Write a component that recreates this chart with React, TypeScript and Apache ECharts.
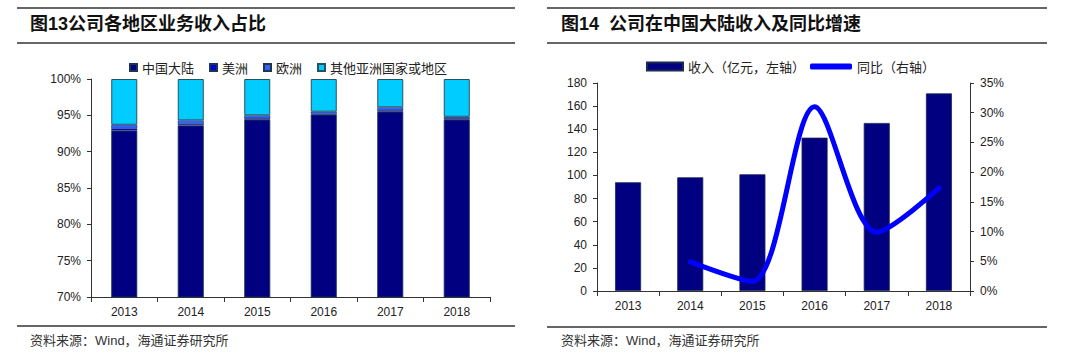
import React, { useEffect, useRef } from "react";
import * as echarts from "echarts";

const years = ["2013", "2014", "2015", "2016", "2017", "2018"];
const chinaShare = [92.9, 93.6, 94.4, 95.1, 95.5, 94.4];
const americasShare = [0.3, 0.2, 0.2, 0.1, 0.2, 0.2];
const europeShare = [0.5, 0.5, 0.4, 0.3, 0.4, 0.2];
const otherAsiaShare = [6.3, 5.7, 5.0, 4.5, 3.9, 5.2];

const revenue = [94.1, 98.4, 101.0, 132.7, 145.4, 171.0];
const yoy: (number | string)[] = ["-", 4.9, 1.6, 31.0, 9.9, 17.3];

const CJK = "'Noto Sans CJK SC', sans-serif";
const LAT = "'Liberation Sans', Arial, 'Noto Sans CJK SC', sans-serif";

export default function App() {
  const ref = useRef<HTMLDivElement>(null);
  useEffect(() => {
    document.body.style.margin = "0";
    const chart = echarts.init(ref.current!, null, { renderer: "svg" });
    const axisLine = { show: true, lineStyle: { color: "#333", width: 1 } };
    const axisLabel = { color: "#222", fontSize: 12, fontFamily: LAT };
    const grayLine = { stroke: "#666", lineWidth: 2 };
    const option: any = {
      animation: false,
      backgroundColor: "#fff",
      grid: [
        { left: 91, right: 590, top: 79, bottom: 63 },
        { left: 597, right: 110, top: 83, bottom: 69 },
      ],
      legend: [
        {
          left: 124,
          top: 56,
          itemWidth: 7,
          itemHeight: 7,
          itemGap: 15,
          icon: "rect",
          textStyle: { fontSize: 13, fontFamily: CJK, color: "#222" },
          data: ["中国大陆", "美洲", "欧洲", "其他亚洲国家或地区"],
        },
        {
          left: 641,
          top: 55,
          itemWidth: 36,
          itemHeight: 8,
          icon: "rect",
          textStyle: { fontSize: 13, fontFamily: CJK, color: "#222" },
          data: ["收入（亿元，左轴）"],
        },
        {
          left: 805,
          top: 55,
          itemWidth: 42,
          itemHeight: 6,
          icon: "roundRect",
          textStyle: { fontSize: 13, fontFamily: CJK, color: "#222" },
          data: ["同比（右轴）"],
        },
      ],
      xAxis: [
        {
          type: "category",
          gridIndex: 0,
          data: years,
          axisLine,
          axisTick: { show: true, length: 5, lineStyle: { color: "#333" } },
          axisLabel: { ...axisLabel, margin: 9 },
        },
        {
          type: "category",
          gridIndex: 1,
          data: years,
          axisLine,
          axisTick: { show: true, length: 5, lineStyle: { color: "#333" } },
          axisLabel: { ...axisLabel, margin: 9 },
        },
      ],
      yAxis: [
        {
          type: "value",
          gridIndex: 0,
          min: 70,
          max: 100,
          interval: 5,
          axisLine,
          axisTick: { show: true, length: 4, lineStyle: { color: "#333" } },
          splitLine: { show: false },
          axisLabel: { ...axisLabel, margin: 10, formatter: "{value}%" },
        },
        {
          type: "value",
          gridIndex: 1,
          min: 0,
          max: 180,
          interval: 20,
          axisLine,
          axisTick: { show: true, length: 4, lineStyle: { color: "#333" } },
          splitLine: { show: false },
          axisLabel: { ...axisLabel, margin: 10 },
        },
        {
          type: "value",
          gridIndex: 1,
          position: "right",
          min: 0,
          max: 35,
          interval: 5,
          axisLine,
          axisTick: { show: true, length: 4, lineStyle: { color: "#333" } },
          splitLine: { show: false },
          axisLabel: { ...axisLabel, margin: 10, formatter: "{value}%" },
        },
      ],
      series: [
        {
          name: "中国大陆",
          type: "bar",
          stack: "share",
          xAxisIndex: 0,
          yAxisIndex: 0,
          barWidth: 26,
          data: chinaShare,
          itemStyle: { color: "#000080", borderColor: "#1d3550", borderWidth: 0.8 },
        },
        {
          name: "美洲",
          type: "bar",
          stack: "share",
          xAxisIndex: 0,
          yAxisIndex: 0,
          barWidth: 26,
          data: americasShare,
          itemStyle: { color: "#0000e0", borderColor: "#1d3550", borderWidth: 0.5 },
        },
        {
          name: "欧洲",
          type: "bar",
          stack: "share",
          xAxisIndex: 0,
          yAxisIndex: 0,
          barWidth: 26,
          data: europeShare,
          itemStyle: { color: "#3366ff", borderColor: "#1d3550", borderWidth: 0.5 },
        },
        {
          name: "其他亚洲国家或地区",
          type: "bar",
          stack: "share",
          xAxisIndex: 0,
          yAxisIndex: 0,
          barWidth: 26,
          data: otherAsiaShare,
          itemStyle: { color: "#00ccff", borderColor: "#2a5060", borderWidth: 1 },
        },
        {
          name: "收入（亿元，左轴）",
          type: "bar",
          xAxisIndex: 1,
          yAxisIndex: 1,
          barWidth: 26,
          data: revenue,
          itemStyle: { color: "#000080", borderColor: "#1d2a50", borderWidth: 0.8 },
        },
        {
          name: "同比（右轴）",
          type: "line",
          xAxisIndex: 1,
          yAxisIndex: 2,
          data: yoy,
          smooth: 0.3,
          showSymbol: false,
          symbol: "none",
          lineStyle: { color: "#0000ff", width: 5, cap: "round" },
          itemStyle: { color: "#0000ff" },
        },
      ],
      graphic: [
        { type: "line", shape: { x1: 17, y1: 8, x2: 515, y2: 8 }, style: grayLine },
        { type: "line", shape: { x1: 17, y1: 43, x2: 515, y2: 43 }, style: grayLine },
        { type: "line", shape: { x1: 17, y1: 326, x2: 515, y2: 326 }, style: grayLine },
        { type: "line", shape: { x1: 547, y1: 8, x2: 1047, y2: 8 }, style: grayLine },
        { type: "line", shape: { x1: 547, y1: 43, x2: 1047, y2: 43 }, style: grayLine },
        { type: "line", shape: { x1: 547, y1: 327, x2: 1047, y2: 327 }, style: grayLine },
        {
          type: "text",
          left: 30,
          top: 15,
          style: {
            text: "图13公司各地区业务收入占比",
            font: `bold 18px ${LAT}`,
            fill: "#111",
          },
        },
        {
          type: "text",
          left: 561,
          top: 15,
          style: {
            text: "图14  公司在中国大陆收入及同比增速",
            font: `bold 18px ${LAT}`,
            fill: "#111",
          },
        },
        {
          type: "text",
          left: 30,
          top: 334,
          style: { text: "资料来源：Wind，海通证券研究所", font: `13px ${LAT}`, fill: "#333" },
        },
        {
          type: "text",
          left: 561,
          top: 334,
          style: { text: "资料来源：Wind，海通证券研究所", font: `13px ${LAT}`, fill: "#333" },
        },
      ],
    };
    chart.setOption(option);
    return () => chart.dispose();
  }, []);
  return <div ref={ref} style={{ width: 1080, height: 360 }} />;
}
